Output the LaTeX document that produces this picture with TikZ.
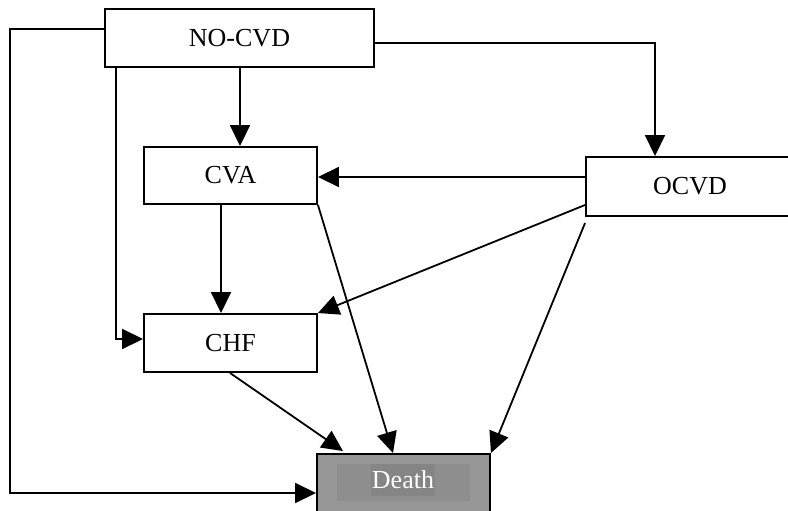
\documentclass[tikz,border=0pt]{standalone}
\usepackage{fontspec}
\setmainfont{Liberation Serif}
\usetikzlibrary{arrows.meta}
\definecolor{deathout}{HTML}{969696}
\definecolor{deathin}{HTML}{8E8E8E}
\definecolor{deathtxt}{HTML}{858585}
\tikzset{
  box/.style={draw=black, line width=1.9pt, fill=white, inner sep=0pt, font=\fontsize{26}{30}\selectfont},
  arr/.style={line width=1.8pt, -{Triangle[length=21pt,width=20pt]}},
  con/.style={line width=1.8pt}
}
\begin{document}
\begin{tikzpicture}[x=1pt,y=-1pt]
\useasboundingbox (0,0) rectangle (788,511);
\node[box, minimum width=269pt, minimum height=58pt] (nocvd) at (239.5,38) {NO-CVD};
\node[box, minimum width=173pt, minimum height=57pt] (cva) at (230.5,175.5) {CVA};
\node[box, minimum width=208pt, minimum height=59pt] (ocvd) at (690,186.5) {OCVD};
\node[box, minimum width=173pt, minimum height=58pt] (chf) at (230.5,343) {CHF};
\node[box, fill=deathout, minimum width=173pt, minimum height=58pt] (death) at (403.5,483) {};
\fill[deathin] (337,464) rectangle (470,501);
\node[fill=deathtxt, text=white, inner sep=0pt, minimum width=64pt, minimum height=32pt, font=\fontsize{26}{30}\selectfont] (deathlbl) at (403,480) {Death};
% connectors
\draw[arr] ([yshift=9pt]nocvd.west) -- (10,29) -- (10,493) -- (death.west |- 0,493);
\draw[arr] (nocvd.south -| 116,0) -- (116,339) -- (chf.west |- 0,339);
\draw[arr] (nocvd.south -| 240,0) -- (cva.north -| 240,0);
\draw[arr] (nocvd.east |- 0,43) -- (655,43) -- (ocvd.north -| 655,0);
\draw[arr] (ocvd.west |- 0,177) -- (cva.east |- 0,177);
\draw[arr] (ocvd.west |- 0,205) -- (chf.north east);
\draw[arr] (cva.south -| 221,0) -- (chf.north -| 221,0);
\draw[arr] (cva.south east) -- (death.north -| 393,0);
\draw[arr] (ocvd.west |- 0,223) -- (death.north east);
\draw[arr] (chf.south -| 230,0) -- ([yshift=2pt]death.north -| 343,0);
\end{tikzpicture}
\end{document}
